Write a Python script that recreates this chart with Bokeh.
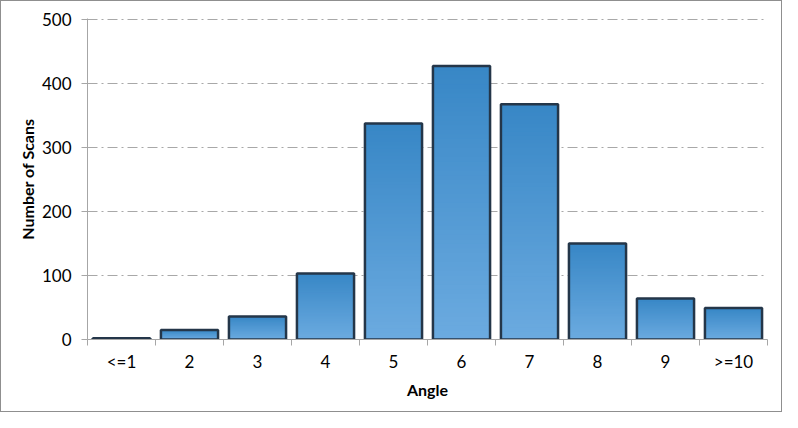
import numpy as np
from bokeh.plotting import figure
from bokeh.models import FixedTicker, Range1d
from bokeh.embed import file_html
from bokeh.resources import INLINE

# ---- data ----
categories = ["<=1", "2", "3", "4", "5", "6", "7", "8", "9", ">=10"]
counts = [2, 15, 36, 103, 337, 427, 367, 150, 64, 49]
y_ticks = [0, 100, 200, 300, 400, 500]

x = np.arange(1, len(categories) + 1)
vals = np.array(counts, dtype=float)

FONT = "Lato"

p = figure(width=782, height=412, output_backend="svg", toolbar_location=None,
           x_range=Range1d(0.5, len(categories) + 0.5), y_range=Range1d(0, 501),
           min_border_left=86, min_border_right=16, min_border_top=17, min_border_bottom=74)
p.outline_line_color = None
p.background_fill_color = "white"
p.border_fill_color = "white"
p.styles = {"border": "1px solid #8f8f8f", "box-sizing": "border-box"}

# gradient bars (dark top -> light bottom): overlapping layers from the base up,
# tallest (darkest) first so there are no seams
top_col = np.array([0x38, 0x87, 0xC6])
bot_col = np.array([0x6C, 0xAB, 0xE0])
N = 60
hw = 0.42
for i in range(N):
    f = 1.0 - i / N
    t = f
    c = bot_col + (top_col - bot_col) * t
    col = "#%02x%02x%02x" % tuple(int(round(v)) for v in c)
    p.quad(left=x - hw, right=x + hw, bottom=0, top=vals * f,
           fill_color=col, line_color=None)

p.vbar(x=x, top=vals, width=2 * hw, fill_alpha=0, line_color="#243649", line_width=2.5)

# axes
p.xaxis.ticker = FixedTicker(ticks=list(x), minor_ticks=list(np.arange(0.5, len(categories) + 1, 1.0)))
p.xaxis.major_label_overrides = {int(i): c for i, c in zip(x, categories)}
p.xaxis.major_tick_out = 0
p.xaxis.major_tick_in = 0
p.xaxis.minor_tick_out = 6
p.xaxis.minor_tick_in = 0
p.xaxis.minor_tick_line_color = "#a6a6a6"
p.xaxis.axis_line_color = "#a6a6a6"
p.xaxis.axis_label = "Angle"
p.xaxis.major_label_standoff = 5
p.xaxis.axis_label_standoff = 5

p.yaxis.ticker = FixedTicker(ticks=y_ticks, minor_ticks=[])
p.yaxis.major_tick_out = 6
p.yaxis.major_tick_in = 0
p.yaxis.major_tick_line_color = "#a6a6a6"
p.yaxis.axis_line_color = "#a6a6a6"
p.yaxis.axis_label = "Number of Scans"
p.yaxis.major_label_standoff = 10
p.yaxis.axis_label_standoff = 2

for ax in (p.xaxis, p.yaxis):
    ax.major_label_text_font = FONT
    ax.major_label_text_font_size = "17px"
    ax.major_label_text_color = "#000000"
    ax.axis_label_text_font = FONT
    ax.axis_label_text_font_size = "16px"
    ax.axis_label_text_font_style = "bold"
    ax.axis_label_text_color = "#000000"

p.xgrid.grid_line_color = None
p.ygrid.ticker = FixedTicker(ticks=y_ticks[1:])
p.ygrid.grid_line_color = "#a8a8a8"
p.ygrid.grid_line_dash = "10 4 2 4"
p.ygrid.grid_line_width = 1

open("out.html", "w").write(file_html(p, INLINE))
